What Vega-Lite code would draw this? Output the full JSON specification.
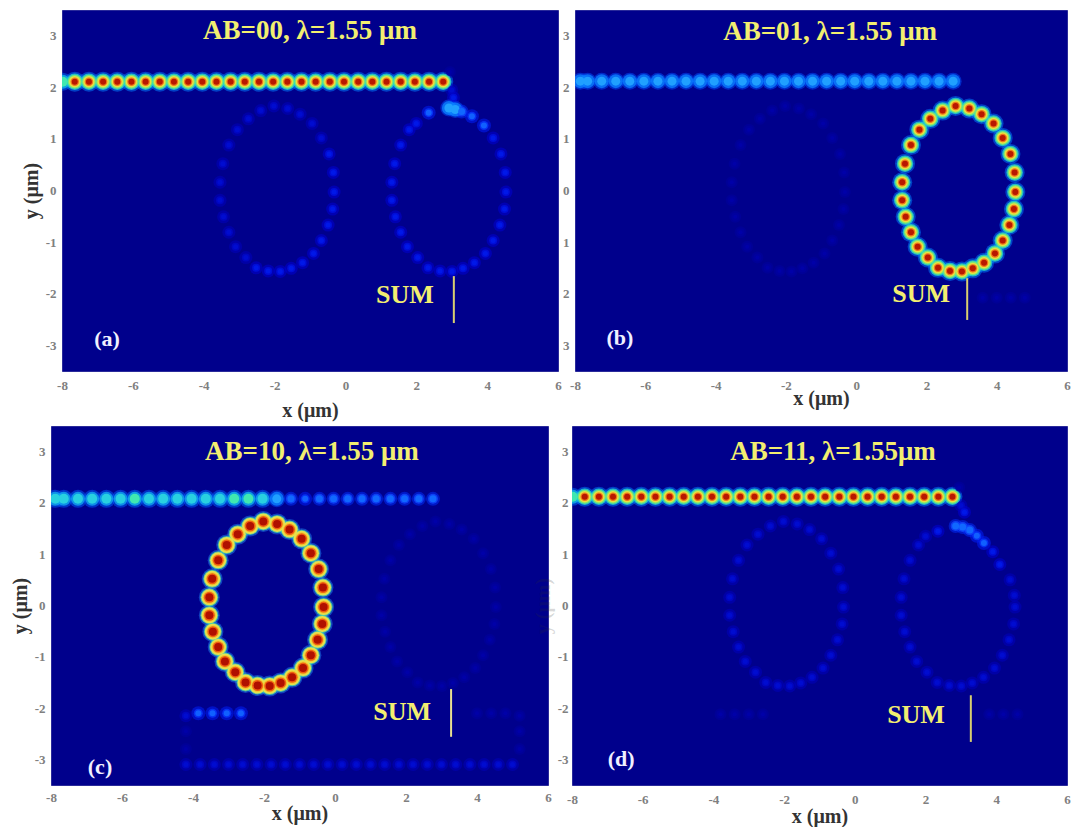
{"$schema":"https://vega.github.io/schema/vega-lite/v6.json","padding":{"left":9,"top":7,"right":0,"bottom":0},"background":"white",
"config":{"legend":{"disable":true},"view":{"fill":"#00008c","stroke":"#2a2a9a","strokeWidth":1},"axis":{"labelFont":"Liberation Serif","labelColor":"#808080","labelFontSize":13,"labelFontWeight":"bold","titleFont":"Liberation Serif","titleFontWeight":"bold","titleColor":"#333333","titleFontSize":20,"ticks":false,"grid":false,"domain":false,"labelFlush":false,"labelOverlap":false,"labelBound":false}},
"datasets":{
"a":[{"x":-7.98,"y":2.11,"i":3.5},{"x":-7.64,"y":2.11,"i":4},{"x":-7.24,"y":2.11,"i":4},{"x":-6.84,"y":2.11,"i":4},{"x":-6.44,"y":2.11,"i":4},{"x":-6.04,"y":2.11,"i":4},{"x":-5.64,"y":2.11,"i":4},{"x":-5.24,"y":2.11,"i":4},{"x":-4.84,"y":2.11,"i":4},{"x":-4.44,"y":2.11,"i":4},{"x":-4.04,"y":2.11,"i":4},{"x":-3.64,"y":2.11,"i":4},{"x":-3.24,"y":2.11,"i":4},{"x":-2.84,"y":2.11,"i":4},{"x":-2.44,"y":2.11,"i":4},{"x":-2.04,"y":2.11,"i":4},{"x":-1.64,"y":2.11,"i":4},{"x":-1.24,"y":2.11,"i":4},{"x":-0.84,"y":2.11,"i":4},{"x":-0.44,"y":2.11,"i":4},{"x":-0.04,"y":2.11,"i":4},{"x":0.36,"y":2.11,"i":4},{"x":0.76,"y":2.11,"i":4},{"x":1.16,"y":2.11,"i":4},{"x":1.56,"y":2.11,"i":4},{"x":1.96,"y":2.11,"i":4},{"x":2.36,"y":2.11,"i":4},{"x":2.76,"y":2.11,"i":4},
{"x":2.95,"y":2.3,"i":0.3},{"x":3.0,"y":1.95,"i":0.5},{"x":3.05,"y":1.8,"i":0.8},{"x":2.92,"y":1.6,"i":2.5},{"x":3.1,"y":1.57,"i":2.5},{"x":3.28,"y":1.53,"i":2},{"x":3.57,"y":1.44,"i":1.5},{"x":3.91,"y":1.26,"i":1.5},{"x":4.17,"y":1.02,"i":0.8},{"x":2.35,"y":1.51,"i":1.5},{"x":2.0,"y":1.3,"i":0.8},
{"x":4.39,"y":0.71,"i":0.8},{"x":4.51,"y":0.35,"i":0.8},{"x":4.53,"y":-0.03,"i":0.8},{"x":4.49,"y":-0.36,"i":0.8},{"x":4.36,"y":-0.67,"i":0.8},{"x":4.17,"y":-0.97,"i":0.8},{"x":3.95,"y":-1.22,"i":0.8},{"x":3.64,"y":-1.4,"i":0.8},{"x":3.32,"y":-1.51,"i":0.8},{"x":3.01,"y":-1.57,"i":0.8},{"x":2.67,"y":-1.56,"i":0.8},{"x":2.33,"y":-1.5,"i":0.8},{"x":2.04,"y":-1.3,"i":0.8},{"x":1.75,"y":-1.09,"i":0.8},{"x":1.56,"y":-0.81,"i":0.8},{"x":1.41,"y":-0.51,"i":0.8},{"x":1.31,"y":-0.19,"i":0.8},{"x":1.31,"y":0.16,"i":0.8},{"x":1.39,"y":0.52,"i":0.8},{"x":1.56,"y":0.88,"i":0.8},{"x":1.8,"y":1.18,"i":0.8},
{"x":-2.02,"y":1.64,"i":0.5},{"x":-1.63,"y":1.59,"i":0.5},{"x":-1.28,"y":1.48,"i":0.5},{"x":-0.94,"y":1.3,"i":0.5},{"x":-0.68,"y":1.02,"i":0.5},{"x":-0.46,"y":0.71,"i":0.8},{"x":-0.34,"y":0.35,"i":0.8},{"x":-0.32,"y":-0.03,"i":0.8},{"x":-0.36,"y":-0.36,"i":0.8},{"x":-0.49,"y":-0.67,"i":0.8},{"x":-0.68,"y":-0.97,"i":0.8},{"x":-0.9,"y":-1.22,"i":0.8},{"x":-1.21,"y":-1.4,"i":0.8},{"x":-1.53,"y":-1.51,"i":0.8},{"x":-1.84,"y":-1.57,"i":0.8},{"x":-2.18,"y":-1.56,"i":0.8},{"x":-2.52,"y":-1.5,"i":0.8},{"x":-2.81,"y":-1.3,"i":0.5},{"x":-3.1,"y":-1.09,"i":0.5},{"x":-3.29,"y":-0.81,"i":0.5},{"x":-3.44,"y":-0.51,"i":0.5},{"x":-3.54,"y":-0.19,"i":0.5},{"x":-3.54,"y":0.16,"i":0.5},{"x":-3.46,"y":0.52,"i":0.5},{"x":-3.29,"y":0.88,"i":0.5},{"x":-3.05,"y":1.18,"i":0.5},{"x":-2.74,"y":1.39,"i":0.5},{"x":-2.39,"y":1.55,"i":0.5}],
"b":[{"x":-7.85,"y":2.12,"i":2.5},{"x":-7.64,"y":2.12,"i":2.5},{"x":-7.24,"y":2.12,"i":2.5},{"x":-6.84,"y":2.12,"i":2.5},{"x":-6.44,"y":2.12,"i":2.5},{"x":-6.04,"y":2.12,"i":2.5},{"x":-5.64,"y":2.12,"i":2.5},{"x":-5.24,"y":2.12,"i":2.5},{"x":-4.84,"y":2.12,"i":2.5},{"x":-4.44,"y":2.12,"i":2.5},{"x":-4.04,"y":2.12,"i":2.5},{"x":-3.64,"y":2.12,"i":2.5},{"x":-3.24,"y":2.12,"i":2.5},{"x":-2.84,"y":2.12,"i":2.5},{"x":-2.44,"y":2.12,"i":2.5},{"x":-2.04,"y":2.12,"i":2.5},{"x":-1.64,"y":2.12,"i":2.5},{"x":-1.24,"y":2.12,"i":2.5},{"x":-0.84,"y":2.12,"i":2.5},{"x":-0.44,"y":2.12,"i":2.5},{"x":-0.04,"y":2.12,"i":2.5},{"x":0.36,"y":2.12,"i":2.5},{"x":0.76,"y":2.12,"i":2.5},{"x":1.16,"y":2.12,"i":2.5},{"x":1.56,"y":2.12,"i":2.5},{"x":1.96,"y":2.12,"i":2.5},{"x":2.36,"y":2.12,"i":2.5},{"x":2.76,"y":2.12,"i":2.5},
{"x":2.83,"y":1.64,"i":4},{"x":3.22,"y":1.59,"i":4},{"x":3.57,"y":1.48,"i":4},{"x":3.91,"y":1.3,"i":4},{"x":4.17,"y":1.02,"i":4},{"x":4.39,"y":0.71,"i":4},{"x":4.51,"y":0.35,"i":4},{"x":4.53,"y":-0.03,"i":4},{"x":4.49,"y":-0.36,"i":4},{"x":4.36,"y":-0.67,"i":4},{"x":4.17,"y":-0.97,"i":4},{"x":3.95,"y":-1.22,"i":4},{"x":3.64,"y":-1.4,"i":4},{"x":3.32,"y":-1.51,"i":4},{"x":3.01,"y":-1.57,"i":4},{"x":2.67,"y":-1.56,"i":4},{"x":2.33,"y":-1.5,"i":4},{"x":2.04,"y":-1.3,"i":4},{"x":1.75,"y":-1.09,"i":4},{"x":1.56,"y":-0.81,"i":4},{"x":1.41,"y":-0.51,"i":4},{"x":1.31,"y":-0.19,"i":4},{"x":1.31,"y":0.16,"i":4},{"x":1.39,"y":0.52,"i":4},{"x":1.56,"y":0.88,"i":4},{"x":1.8,"y":1.18,"i":4},{"x":2.11,"y":1.39,"i":4},{"x":2.46,"y":1.55,"i":4},
{"x":3.6,"y":-2.08,"i":0.3},{"x":4.0,"y":-2.08,"i":0.3},{"x":4.4,"y":-2.08,"i":0.3},{"x":4.8,"y":-2.08,"i":0.3},
{"x":-2.02,"y":1.64,"i":0.3},{"x":-1.63,"y":1.59,"i":0.3},{"x":-1.28,"y":1.48,"i":0.3},{"x":-0.94,"y":1.3,"i":0.3},{"x":-0.68,"y":1.02,"i":0.3},{"x":-0.46,"y":0.71,"i":0.3},{"x":-0.34,"y":0.35,"i":0.3},{"x":-0.32,"y":-0.03,"i":0.3},{"x":-0.36,"y":-0.36,"i":0.3},{"x":-0.49,"y":-0.67,"i":0.3},{"x":-0.68,"y":-0.97,"i":0.3},{"x":-0.9,"y":-1.22,"i":0.3},{"x":-1.21,"y":-1.4,"i":0.3},{"x":-1.53,"y":-1.51,"i":0.3},{"x":-1.84,"y":-1.57,"i":0.3},{"x":-2.18,"y":-1.56,"i":0.3},{"x":-2.52,"y":-1.5,"i":0.3},{"x":-2.81,"y":-1.3,"i":0.3},{"x":-3.1,"y":-1.09,"i":0.3},{"x":-3.29,"y":-0.81,"i":0.3},{"x":-3.44,"y":-0.51,"i":0.3},{"x":-3.54,"y":-0.19,"i":0.3},{"x":-3.54,"y":0.16,"i":0.3},{"x":-3.46,"y":0.52,"i":0.3},{"x":-3.29,"y":0.88,"i":0.3},{"x":-3.05,"y":1.18,"i":0.3},{"x":-2.74,"y":1.39,"i":0.3},{"x":-2.39,"y":1.55,"i":0.3}],
"c":[{"x":-7.88,"y":2.08,"i":3},{"x":-7.64,"y":2.08,"i":3},{"x":-7.24,"y":2.08,"i":3},{"x":-6.84,"y":2.08,"i":3},{"x":-6.44,"y":2.08,"i":3},{"x":-6.04,"y":2.08,"i":3},{"x":-5.64,"y":2.08,"i":3.5},{"x":-5.24,"y":2.08,"i":3},{"x":-4.84,"y":2.08,"i":3},{"x":-4.44,"y":2.08,"i":3},{"x":-4.04,"y":2.08,"i":3},{"x":-3.64,"y":2.08,"i":3},{"x":-3.24,"y":2.08,"i":3},{"x":-2.84,"y":2.08,"i":3.5},{"x":-2.44,"y":2.08,"i":3.5},{"x":-2.04,"y":2.08,"i":3},{"x":-1.64,"y":2.08,"i":2.5},{"x":-1.24,"y":2.08,"i":2},{"x":-0.84,"y":2.08,"i":1.5},{"x":-0.44,"y":2.08,"i":2},{"x":-0.04,"y":2.08,"i":2},{"x":0.36,"y":2.08,"i":2},{"x":0.76,"y":2.08,"i":2},{"x":1.16,"y":2.08,"i":2},{"x":1.56,"y":2.08,"i":2},{"x":1.96,"y":2.08,"i":2},{"x":2.36,"y":2.08,"i":2},{"x":2.76,"y":2.08,"i":2},
{"x":-2.02,"y":1.64,"i":5},{"x":-1.63,"y":1.59,"i":5},{"x":-1.28,"y":1.48,"i":5},{"x":-0.94,"y":1.3,"i":5},{"x":-0.68,"y":1.02,"i":5},{"x":-0.46,"y":0.71,"i":5},{"x":-0.34,"y":0.35,"i":5},{"x":-0.32,"y":-0.03,"i":5},{"x":-0.36,"y":-0.36,"i":5},{"x":-0.49,"y":-0.67,"i":5},{"x":-0.68,"y":-0.97,"i":5},{"x":-0.9,"y":-1.22,"i":5},{"x":-1.21,"y":-1.4,"i":5},{"x":-1.53,"y":-1.51,"i":5},{"x":-1.84,"y":-1.57,"i":5},{"x":-2.18,"y":-1.56,"i":5},{"x":-2.52,"y":-1.5,"i":5},{"x":-2.81,"y":-1.3,"i":5},{"x":-3.1,"y":-1.09,"i":5},{"x":-3.29,"y":-0.81,"i":5},{"x":-3.44,"y":-0.51,"i":5},{"x":-3.54,"y":-0.19,"i":5},{"x":-3.54,"y":0.16,"i":5},{"x":-3.46,"y":0.52,"i":5},{"x":-3.29,"y":0.88,"i":5},{"x":-3.05,"y":1.18,"i":5},{"x":-2.74,"y":1.39,"i":5},{"x":-2.39,"y":1.55,"i":5},
{"x":2.83,"y":1.64,"i":0.3},{"x":3.22,"y":1.59,"i":0.3},{"x":3.57,"y":1.48,"i":0.3},{"x":3.91,"y":1.3,"i":0.3},{"x":4.17,"y":1.02,"i":0.3},{"x":4.39,"y":0.71,"i":0.3},{"x":4.51,"y":0.35,"i":0.3},{"x":4.53,"y":-0.03,"i":0.3},{"x":4.49,"y":-0.36,"i":0.3},{"x":4.36,"y":-0.67,"i":0.3},{"x":4.17,"y":-0.97,"i":0.3},{"x":3.95,"y":-1.22,"i":0.3},{"x":3.64,"y":-1.4,"i":0.3},{"x":3.32,"y":-1.51,"i":0.3},{"x":3.01,"y":-1.57,"i":0.3},{"x":2.67,"y":-1.56,"i":0.3},{"x":2.33,"y":-1.5,"i":0.3},{"x":2.04,"y":-1.3,"i":0.3},{"x":1.75,"y":-1.09,"i":0.3},{"x":1.56,"y":-0.81,"i":0.3},{"x":1.41,"y":-0.51,"i":0.3},{"x":1.31,"y":-0.19,"i":0.3},{"x":1.31,"y":0.16,"i":0.3},{"x":1.39,"y":0.52,"i":0.3},{"x":1.56,"y":0.88,"i":0.3},{"x":1.8,"y":1.18,"i":0.3},{"x":2.11,"y":1.39,"i":0.3},{"x":2.46,"y":1.55,"i":0.3},
{"x":-3.85,"y":-2.1,"i":1.5},{"x":-3.45,"y":-2.1,"i":1.5},{"x":-3.05,"y":-2.1,"i":1.5},{"x":-2.65,"y":-2.1,"i":1.5},{"x":-4.2,"y":-2.15,"i":0.5},{"x":-4.2,"y":-2.45,"i":0.3},{"x":-4.2,"y":-2.8,"i":0.3},{"x":-4.2,"y":-3.1,"i":0.5},{"x":-3.8,"y":-3.1,"i":0.5},{"x":-3.4,"y":-3.1,"i":0.5},{"x":-3.0,"y":-3.1,"i":0.5},{"x":-2.6,"y":-3.1,"i":0.5},{"x":-2.2,"y":-3.1,"i":0.5},{"x":-1.8,"y":-3.1,"i":0.5},{"x":-1.4,"y":-3.1,"i":0.5},{"x":-1.0,"y":-3.1,"i":0.5},{"x":-0.6,"y":-3.1,"i":0.5},{"x":-0.2,"y":-3.1,"i":0.5},{"x":0.2,"y":-3.1,"i":0.5},{"x":0.6,"y":-3.1,"i":0.5},{"x":1.0,"y":-3.1,"i":0.5},{"x":1.4,"y":-3.1,"i":0.5},{"x":1.8,"y":-3.1,"i":0.5},{"x":2.2,"y":-3.1,"i":0.5},{"x":2.6,"y":-3.1,"i":0.5},{"x":3.0,"y":-3.1,"i":0.5},{"x":3.4,"y":-3.1,"i":0.5},{"x":3.8,"y":-3.1,"i":0.5},{"x":4.2,"y":-3.1,"i":0.5},{"x":4.6,"y":-3.1,"i":0.5},{"x":5.0,"y":-3.1,"i":0.5},{"x":5.2,"y":-2.8,"i":0.3},{"x":5.2,"y":-2.45,"i":0.3},{"x":5.2,"y":-2.15,"i":0.3},{"x":4.8,"y":-2.1,"i":0.3},{"x":4.4,"y":-2.1,"i":0.3},{"x":4.0,"y":-2.1,"i":0.3}],
"d":[{"x":-7.98,"y":2.12,"i":3.5},{"x":-7.64,"y":2.12,"i":4},{"x":-7.24,"y":2.12,"i":4},{"x":-6.84,"y":2.12,"i":4},{"x":-6.44,"y":2.12,"i":4},{"x":-6.04,"y":2.12,"i":4},{"x":-5.64,"y":2.12,"i":4},{"x":-5.24,"y":2.12,"i":4},{"x":-4.84,"y":2.12,"i":4},{"x":-4.44,"y":2.12,"i":4},{"x":-4.04,"y":2.12,"i":4},{"x":-3.64,"y":2.12,"i":4},{"x":-3.24,"y":2.12,"i":4},{"x":-2.84,"y":2.12,"i":4},{"x":-2.44,"y":2.12,"i":4},{"x":-2.04,"y":2.12,"i":4},{"x":-1.64,"y":2.12,"i":4},{"x":-1.24,"y":2.12,"i":4},{"x":-0.84,"y":2.12,"i":4},{"x":-0.44,"y":2.12,"i":4},{"x":-0.04,"y":2.12,"i":4},{"x":0.36,"y":2.12,"i":4},{"x":0.76,"y":2.12,"i":4},{"x":1.16,"y":2.12,"i":4},{"x":1.56,"y":2.12,"i":4},{"x":1.96,"y":2.12,"i":4},{"x":2.36,"y":2.12,"i":4},{"x":2.76,"y":2.12,"i":4},
{"x":2.95,"y":2.3,"i":0.3},{"x":3.0,"y":1.95,"i":0.5},{"x":3.1,"y":1.82,"i":0.8},{"x":2.85,"y":1.55,"i":2},{"x":3.05,"y":1.53,"i":2},{"x":3.25,"y":1.47,"i":2},{"x":3.45,"y":1.36,"i":1.5},{"x":3.65,"y":1.22,"i":1.5},{"x":3.9,"y":1.05,"i":0.8},{"x":4.1,"y":0.8,"i":0.8},{"x":2.35,"y":1.45,"i":0.8},
{"x":4.39,"y":0.5,"i":0.5},{"x":4.51,"y":0.2,"i":0.5},{"x":4.53,"y":-0.03,"i":0.5},{"x":4.49,"y":-0.36,"i":0.5},{"x":4.36,"y":-0.67,"i":0.5},{"x":4.17,"y":-0.97,"i":0.5},{"x":3.95,"y":-1.22,"i":0.5},{"x":3.64,"y":-1.4,"i":0.5},{"x":3.32,"y":-1.51,"i":0.5},{"x":3.01,"y":-1.57,"i":0.5},{"x":2.67,"y":-1.56,"i":0.5},{"x":2.33,"y":-1.5,"i":0.5},{"x":2.04,"y":-1.3,"i":0.5},{"x":1.75,"y":-1.09,"i":0.5},{"x":1.56,"y":-0.81,"i":0.5},{"x":1.41,"y":-0.51,"i":0.5},{"x":1.31,"y":-0.19,"i":0.5},{"x":1.31,"y":0.16,"i":0.5},{"x":1.39,"y":0.52,"i":0.5},{"x":1.56,"y":0.88,"i":0.5},{"x":1.8,"y":1.18,"i":0.5},{"x":2.0,"y":1.35,"i":0.5},
{"x":-2.02,"y":1.64,"i":0.5},{"x":-1.63,"y":1.59,"i":0.5},{"x":-1.28,"y":1.48,"i":0.5},{"x":-0.94,"y":1.3,"i":0.5},{"x":-0.68,"y":1.02,"i":0.5},{"x":-0.46,"y":0.71,"i":0.5},{"x":-0.34,"y":0.35,"i":0.5},{"x":-0.32,"y":-0.03,"i":0.5},{"x":-0.36,"y":-0.36,"i":0.5},{"x":-0.49,"y":-0.67,"i":0.5},{"x":-0.68,"y":-0.97,"i":0.5},{"x":-0.9,"y":-1.22,"i":0.5},{"x":-1.21,"y":-1.4,"i":0.5},{"x":-1.53,"y":-1.51,"i":0.5},{"x":-1.84,"y":-1.57,"i":0.5},{"x":-2.18,"y":-1.56,"i":0.5},{"x":-2.52,"y":-1.5,"i":0.5},{"x":-2.81,"y":-1.3,"i":0.5},{"x":-3.1,"y":-1.09,"i":0.5},{"x":-3.29,"y":-0.81,"i":0.5},{"x":-3.44,"y":-0.51,"i":0.5},{"x":-3.54,"y":-0.19,"i":0.5},{"x":-3.54,"y":0.16,"i":0.5},{"x":-3.46,"y":0.52,"i":0.5},{"x":-3.29,"y":0.88,"i":0.5},{"x":-3.05,"y":1.18,"i":0.5},{"x":-2.74,"y":1.39,"i":0.5},{"x":-2.39,"y":1.55,"i":0.5},
{"x":-3.8,"y":-2.12,"i":0.3},{"x":-3.4,"y":-2.12,"i":0.3},{"x":-3.0,"y":-2.12,"i":0.3},{"x":-2.6,"y":-2.12,"i":0.3},{"x":3.8,"y":-2.12,"i":0.3},{"x":4.2,"y":-2.12,"i":0.3},{"x":4.6,"y":-2.12,"i":0.3}]
},
"spacing":2,
"vconcat":[
{"hconcat":[
{"width":19,"height":1,"view":{"fill":null,"stroke":null},"data":{"values":[{"s":0}]},"mark":{"type":"point","opacity":0}},
{"width":496,"height":361,"data":{"name":"a"},
"encoding":{"x":{"field":"x","type":"quantitative","scale":{"domain":[-8,6],"nice":false,"zero":false},"axis":{"values":[-8,-6,-4,-2,0,2,4,6],"labelExpr":"''+datum.value","title":"x (μm)","labelPadding":8,"titlePadding":8}},"y":{"field":"y","type":"quantitative","scale":{"domain":[-3.5,3.5],"nice":false,"zero":false},"axis":{"values":[-3,-2,-1,0,1,2,3],"labelExpr":"''+datum.value","title":"y (μm)","labelPadding":6,"titlePadding":4}}},
"resolve":{"scale":{"color":"independent","size":"independent"}},
"layer":[
{"mark":{"type":"circle","opacity":0.5,"clip":true},"encoding":{"color":{"field":"i","type":"ordinal","scale":{"domain":[0.3,0.5,0.8,1.5,2,2.5,3,3.5,4,5],"range":["#0000a0","#0000c0","#0000d8","#0020ff","#0030ff","#0050ff","#0060ff","#0070ff","#0080ff","#2080f0"]}},"size":{"field":"i","type":"ordinal","scale":{"type":"ordinal","domain":[0.3,0.5,0.8,1.5,2,2.5,3,3.5,4,5],"range":[144,169,169,196,196,289,324,324,400,441]}}}},
{"mark":{"type":"circle","opacity":0.8,"clip":true},"encoding":{"color":{"field":"i","type":"ordinal","scale":{"domain":[0.3,0.5,0.8,1.5,2,2.5,3,3.5,4,5],"range":["#0000a0","#0008c8","#0010e0","#0838ff","#1048ff","#0a80ff","#10a8f0","#10b8e8","#28d8c8","#50e0a0"]}},"size":{"field":"i","type":"ordinal","scale":{"type":"ordinal","domain":[0.3,0.5,0.8,1.5,2,2.5,3,3.5,4,5],"range":[64,64,64,81,100,196,196,196,272,324]}}}},
{"mark":{"type":"circle","opacity":1,"clip":true},"encoding":{"color":{"field":"i","type":"ordinal","scale":{"domain":[0.3,0.5,0.8,1.5,2,2.5,3,3.5,4,5],"range":["#0000a8","#000cd0","#0018e8","#1060ff","#1068ff","#20a0ff","#28d0e0","#40e8b0","#78e878","#e8e050"]}},"size":{"field":"i","type":"ordinal","scale":{"type":"ordinal","domain":[0.3,0.5,0.8,1.5,2,2.5,3,3.5,4,5],"range":[16,25,25,36,49,81,100,100,196,256]}}}},
{"transform":[{"filter":"datum.i>=4"}],"mark":{"type":"circle","opacity":1,"clip":true},"encoding":{"color":{"field":"i","type":"ordinal","scale":{"domain":[4,5],"range":["#e8e040","#f0c830"]}},"size":{"field":"i","type":"ordinal","scale":{"type":"ordinal","domain":[4,5],"range":[132,169]}}}},
{"transform":[{"filter":"datum.i>=4"}],"mark":{"type":"circle","opacity":1,"clip":true},"encoding":{"color":{"field":"i","type":"ordinal","scale":{"domain":[4,5],"range":["#f07818","#f06010"]}},"size":{"field":"i","type":"ordinal","scale":{"type":"ordinal","domain":[4,5],"range":[72,121]}}}},
{"transform":[{"filter":"datum.i>=4"}],"mark":{"type":"circle","opacity":1,"clip":true},"encoding":{"color":{"field":"i","type":"ordinal","scale":{"domain":[4,5],"range":["#b81800","#b01000"]}},"size":{"field":"i","type":"ordinal","scale":{"type":"ordinal","domain":[4,5],"range":[36,64]}}}},
{"data":{"values":[{"x":3.06,"y":-1.66,"y2":-2.57}]},"mark":{"type":"rule","color":"#d8cf70","strokeWidth":2},"encoding":{"y2":{"field":"y2"}}},
{"data":{"values":[{"x":-1.0,"y":3.09,"t":"AB=00, λ=1.55 μm","k":"h"},{"x":1.68,"y":-2.03,"t":"SUM","k":"s"},{"x":-6.73,"y":-2.88,"t":"(a)","k":"p"}]},"mark":{"type":"text","font":"Liberation Serif","fontWeight":"bold","align":"center","baseline":"middle"},"encoding":{"text":{"field":"t"},"color":{"field":"k","type":"nominal","scale":{"domain":["h","s","p"],"range":["#f2ee70","#f2ee70","#f0f0ff"]}},"size":{"field":"k","type":"nominal","scale":{"type":"ordinal","domain":["h","s","p"],"range":[27,26,22]}}}}
]},
{"width":492,"height":361,"data":{"name":"b"},
"encoding":{"x":{"field":"x","type":"quantitative","scale":{"domain":[-8,6],"nice":false,"zero":false},"axis":{"values":[-8,-6,-4,-2,0,2,4,6],"labelExpr":"''+datum.value","title":"x (μm)","labelPadding":8,"titlePadding":-4}},"y":{"field":"y","type":"quantitative","scale":{"domain":[-3.5,3.5],"nice":false,"zero":false},"axis":{"values":[-3,-2,-1,0,1,2,3],"title":null,"labelPadding":6,"labelExpr":"abs(datum.value)"}}},
"resolve":{"scale":{"color":"independent","size":"independent"}},
"layer":[
{"mark":{"type":"circle","opacity":0.5,"clip":true},"encoding":{"color":{"field":"i","type":"ordinal","scale":{"domain":[0.3,0.5,0.8,1.5,2,2.5,3,3.5,4,5],"range":["#0000a0","#0000c0","#0000d8","#0020ff","#0030ff","#0050ff","#0060ff","#0070ff","#0080ff","#2080f0"]}},"size":{"field":"i","type":"ordinal","scale":{"type":"ordinal","domain":[0.3,0.5,0.8,1.5,2,2.5,3,3.5,4,5],"range":[144,169,169,196,196,289,324,324,400,441]}}}},
{"mark":{"type":"circle","opacity":0.8,"clip":true},"encoding":{"color":{"field":"i","type":"ordinal","scale":{"domain":[0.3,0.5,0.8,1.5,2,2.5,3,3.5,4,5],"range":["#0000a0","#0008c8","#0010e0","#0838ff","#1048ff","#0a80ff","#10a8f0","#10b8e8","#28d8c8","#50e0a0"]}},"size":{"field":"i","type":"ordinal","scale":{"type":"ordinal","domain":[0.3,0.5,0.8,1.5,2,2.5,3,3.5,4,5],"range":[64,64,64,81,100,196,196,196,272,324]}}}},
{"mark":{"type":"circle","opacity":1,"clip":true},"encoding":{"color":{"field":"i","type":"ordinal","scale":{"domain":[0.3,0.5,0.8,1.5,2,2.5,3,3.5,4,5],"range":["#0000a8","#000cd0","#0018e8","#1060ff","#1068ff","#20a0ff","#28d0e0","#40e8b0","#78e878","#e8e050"]}},"size":{"field":"i","type":"ordinal","scale":{"type":"ordinal","domain":[0.3,0.5,0.8,1.5,2,2.5,3,3.5,4,5],"range":[16,25,25,36,49,81,100,100,196,256]}}}},
{"transform":[{"filter":"datum.i>=4"}],"mark":{"type":"circle","opacity":1,"clip":true},"encoding":{"color":{"field":"i","type":"ordinal","scale":{"domain":[4,5],"range":["#e8e040","#f0c830"]}},"size":{"field":"i","type":"ordinal","scale":{"type":"ordinal","domain":[4,5],"range":[132,169]}}}},
{"transform":[{"filter":"datum.i>=4"}],"mark":{"type":"circle","opacity":1,"clip":true},"encoding":{"color":{"field":"i","type":"ordinal","scale":{"domain":[4,5],"range":["#f07818","#f06010"]}},"size":{"field":"i","type":"ordinal","scale":{"type":"ordinal","domain":[4,5],"range":[72,121]}}}},
{"transform":[{"filter":"datum.i>=4"}],"mark":{"type":"circle","opacity":1,"clip":true},"encoding":{"color":{"field":"i","type":"ordinal","scale":{"domain":[4,5],"range":["#b81800","#b01000"]}},"size":{"field":"i","type":"ordinal","scale":{"type":"ordinal","domain":[4,5],"range":[36,64]}}}},
{"data":{"values":[{"x":3.16,"y":-1.7,"y2":-2.51}]},"mark":{"type":"rule","color":"#d8cf70","strokeWidth":2},"encoding":{"y2":{"field":"y2"}}},
{"data":{"values":[{"x":-0.74,"y":3.07,"t":"AB=01, λ=1.55 μm","k":"h"},{"x":1.85,"y":-2.01,"t":"SUM","k":"s"},{"x":-6.72,"y":-2.86,"t":"(b)","k":"p"}]},"mark":{"type":"text","font":"Liberation Serif","fontWeight":"bold","align":"center","baseline":"middle"},"encoding":{"text":{"field":"t"},"color":{"field":"k","type":"nominal","scale":{"domain":["h","s","p"],"range":["#f2ee70","#f2ee70","#f0f0ff"]}},"size":{"field":"k","type":"nominal","scale":{"type":"ordinal","domain":["h","s","p"],"range":[27,26,22]}}}}
]}
],"spacing":17,"bounds":"flush"},
{"hconcat":[
{"width":1,"height":1,"view":{"fill":null,"stroke":null},"data":{"values":[{"s":0}]},"mark":{"type":"point","opacity":0}},
{"width":497,"height":359,"data":{"name":"c"},
"encoding":{"x":{"field":"x","type":"quantitative","scale":{"domain":[-8,6],"nice":false,"zero":false},"axis":{"values":[-8,-6,-4,-2,0,2,4,6],"labelExpr":"''+datum.value","title":"x (μm)","labelPadding":6,"titlePadding":-1}},"y":{"field":"y","type":"quantitative","scale":{"domain":[-3.5,3.5],"nice":false,"zero":false},"axis":{"values":[-3,-2,-1,0,1,2,3],"labelExpr":"''+datum.value","title":"y (μm)","labelPadding":6,"titlePadding":4}}},
"resolve":{"scale":{"color":"independent","size":"independent"}},
"layer":[
{"mark":{"type":"circle","opacity":0.5,"clip":true},"encoding":{"color":{"field":"i","type":"ordinal","scale":{"domain":[0.3,0.5,0.8,1.5,2,2.5,3,3.5,4,5],"range":["#0000a0","#0000c0","#0000d8","#0020ff","#0030ff","#0050ff","#0060ff","#0070ff","#0080ff","#2080f0"]}},"size":{"field":"i","type":"ordinal","scale":{"type":"ordinal","domain":[0.3,0.5,0.8,1.5,2,2.5,3,3.5,4,5],"range":[144,169,169,196,196,289,324,324,400,441]}}}},
{"mark":{"type":"circle","opacity":0.8,"clip":true},"encoding":{"color":{"field":"i","type":"ordinal","scale":{"domain":[0.3,0.5,0.8,1.5,2,2.5,3,3.5,4,5],"range":["#0000a0","#0008c8","#0010e0","#0838ff","#1048ff","#0a80ff","#10a8f0","#10b8e8","#28d8c8","#50e0a0"]}},"size":{"field":"i","type":"ordinal","scale":{"type":"ordinal","domain":[0.3,0.5,0.8,1.5,2,2.5,3,3.5,4,5],"range":[64,64,64,81,100,196,196,196,272,324]}}}},
{"mark":{"type":"circle","opacity":1,"clip":true},"encoding":{"color":{"field":"i","type":"ordinal","scale":{"domain":[0.3,0.5,0.8,1.5,2,2.5,3,3.5,4,5],"range":["#0000a8","#000cd0","#0018e8","#1060ff","#1068ff","#20a0ff","#28d0e0","#40e8b0","#78e878","#e8e050"]}},"size":{"field":"i","type":"ordinal","scale":{"type":"ordinal","domain":[0.3,0.5,0.8,1.5,2,2.5,3,3.5,4,5],"range":[16,25,25,36,49,81,100,100,196,256]}}}},
{"transform":[{"filter":"datum.i>=4"}],"mark":{"type":"circle","opacity":1,"clip":true},"encoding":{"color":{"field":"i","type":"ordinal","scale":{"domain":[4,5],"range":["#e8e040","#f0c830"]}},"size":{"field":"i","type":"ordinal","scale":{"type":"ordinal","domain":[4,5],"range":[132,169]}}}},
{"transform":[{"filter":"datum.i>=4"}],"mark":{"type":"circle","opacity":1,"clip":true},"encoding":{"color":{"field":"i","type":"ordinal","scale":{"domain":[4,5],"range":["#f07818","#f06010"]}},"size":{"field":"i","type":"ordinal","scale":{"type":"ordinal","domain":[4,5],"range":[72,121]}}}},
{"transform":[{"filter":"datum.i>=4"}],"mark":{"type":"circle","opacity":1,"clip":true},"encoding":{"color":{"field":"i","type":"ordinal","scale":{"domain":[4,5],"range":["#b81800","#b01000"]}},"size":{"field":"i","type":"ordinal","scale":{"type":"ordinal","domain":[4,5],"range":[36,64]}}}},
{"data":{"values":[{"x":3.27,"y":-1.63,"y2":-2.56}]},"mark":{"type":"rule","color":"#e8e090","strokeWidth":2},"encoding":{"y2":{"field":"y2"}}},
{"data":{"values":[{"x":-0.65,"y":2.99,"t":"AB=10, λ=1.55 μm","k":"h"},{"x":1.89,"y":-2.08,"t":"SUM","k":"s"},{"x":-6.62,"y":-3.14,"t":"(c)","k":"p"}]},"mark":{"type":"text","font":"Liberation Serif","fontWeight":"bold","align":"center","baseline":"middle"},"encoding":{"text":{"field":"t"},"color":{"field":"k","type":"nominal","scale":{"domain":["h","s","p"],"range":["#f2ee70","#f2ee70","#f0f0ff"]}},"size":{"field":"k","type":"nominal","scale":{"type":"ordinal","domain":["h","s","p"],"range":[27,26,22]}}}}
]},
{"width":495,"height":359,"data":{"name":"d"},
"encoding":{"x":{"field":"x","type":"quantitative","scale":{"domain":[-8,6],"nice":false,"zero":false},"axis":{"values":[-8,-6,-4,-2,0,2,4,6],"labelExpr":"''+datum.value","title":"x (μm)","labelPadding":8,"titlePadding":0}},"y":{"field":"y","type":"quantitative","scale":{"domain":[-3.5,3.5],"nice":false,"zero":false},"axis":{"values":[-3,-2,-1,0,1,2,3],"labelExpr":"''+datum.value","title":"y (μm)","titleOpacity":0.2,"labelPadding":4,"titlePadding":4}}},
"resolve":{"scale":{"color":"independent","size":"independent"}},
"layer":[
{"mark":{"type":"circle","opacity":0.5,"clip":true},"encoding":{"color":{"field":"i","type":"ordinal","scale":{"domain":[0.3,0.5,0.8,1.5,2,2.5,3,3.5,4,5],"range":["#0000a0","#0000c0","#0000d8","#0020ff","#0030ff","#0050ff","#0060ff","#0070ff","#0080ff","#2080f0"]}},"size":{"field":"i","type":"ordinal","scale":{"type":"ordinal","domain":[0.3,0.5,0.8,1.5,2,2.5,3,3.5,4,5],"range":[144,169,169,196,196,289,324,324,400,441]}}}},
{"mark":{"type":"circle","opacity":0.8,"clip":true},"encoding":{"color":{"field":"i","type":"ordinal","scale":{"domain":[0.3,0.5,0.8,1.5,2,2.5,3,3.5,4,5],"range":["#0000a0","#0008c8","#0010e0","#0838ff","#1048ff","#0a80ff","#10a8f0","#10b8e8","#28d8c8","#50e0a0"]}},"size":{"field":"i","type":"ordinal","scale":{"type":"ordinal","domain":[0.3,0.5,0.8,1.5,2,2.5,3,3.5,4,5],"range":[64,64,64,81,100,196,196,196,272,324]}}}},
{"mark":{"type":"circle","opacity":1,"clip":true},"encoding":{"color":{"field":"i","type":"ordinal","scale":{"domain":[0.3,0.5,0.8,1.5,2,2.5,3,3.5,4,5],"range":["#0000a8","#000cd0","#0018e8","#1060ff","#1068ff","#20a0ff","#28d0e0","#40e8b0","#78e878","#e8e050"]}},"size":{"field":"i","type":"ordinal","scale":{"type":"ordinal","domain":[0.3,0.5,0.8,1.5,2,2.5,3,3.5,4,5],"range":[16,25,25,36,49,81,100,100,196,256]}}}},
{"transform":[{"filter":"datum.i>=4"}],"mark":{"type":"circle","opacity":1,"clip":true},"encoding":{"color":{"field":"i","type":"ordinal","scale":{"domain":[4,5],"range":["#e8e040","#f0c830"]}},"size":{"field":"i","type":"ordinal","scale":{"type":"ordinal","domain":[4,5],"range":[132,169]}}}},
{"transform":[{"filter":"datum.i>=4"}],"mark":{"type":"circle","opacity":1,"clip":true},"encoding":{"color":{"field":"i","type":"ordinal","scale":{"domain":[4,5],"range":["#f07818","#f06010"]}},"size":{"field":"i","type":"ordinal","scale":{"type":"ordinal","domain":[4,5],"range":[72,121]}}}},
{"transform":[{"filter":"datum.i>=4"}],"mark":{"type":"circle","opacity":1,"clip":true},"encoding":{"color":{"field":"i","type":"ordinal","scale":{"domain":[4,5],"range":["#b81800","#b01000"]}},"size":{"field":"i","type":"ordinal","scale":{"type":"ordinal","domain":[4,5],"range":[36,64]}}}},
{"data":{"values":[{"x":3.28,"y":-1.75,"y2":-2.66}]},"mark":{"type":"rule","color":"#d8cf70","strokeWidth":2},"encoding":{"y2":{"field":"y2"}}},
{"data":{"values":[{"x":-0.62,"y":3.0,"t":"AB=11, λ=1.55μm","k":"h"},{"x":1.73,"y":-2.14,"t":"SUM","k":"s"},{"x":-6.61,"y":-3.0,"t":"(d)","k":"p"}]},"mark":{"type":"text","font":"Liberation Serif","fontWeight":"bold","align":"center","baseline":"middle"},"encoding":{"text":{"field":"t"},"color":{"field":"k","type":"nominal","scale":{"domain":["h","s","p"],"range":["#f2ee70","#f2ee70","#f0f0ff"]}},"size":{"field":"k","type":"nominal","scale":{"type":"ordinal","domain":["h","s","p"],"range":[27,26,22]}}}}
]}
],"spacing":24,"bounds":"flush"}
]}
